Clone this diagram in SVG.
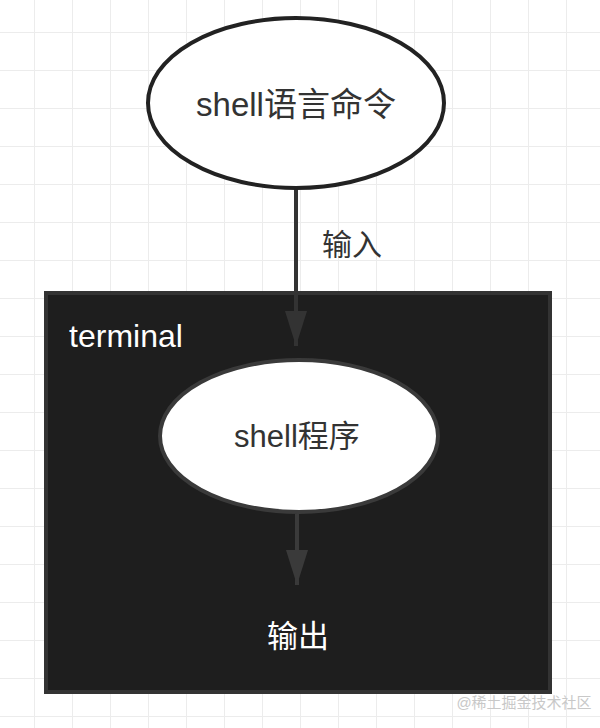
<svg xmlns="http://www.w3.org/2000/svg" width="600" height="728" viewBox="0 0 600 728">
<defs>
<pattern id="grid" x="-3" y="-5" width="38" height="38" patternUnits="userSpaceOnUse">
<path d="M38 0V38M0 38H38" fill="none" stroke="#ececec" stroke-width="2"/>
</pattern>
<marker id="ah1" viewBox="0 0 22 35" refX="11" refY="35" markerWidth="22" markerHeight="35" markerUnits="userSpaceOnUse" orient="0">
<path d="M0 0L22 0L11 35Z" fill="#333"/>
</marker>
<marker id="ah2" viewBox="0 0 22 35" refX="11" refY="35" markerWidth="22" markerHeight="35" markerUnits="userSpaceOnUse" orient="0">
<path d="M0 0L22 0L11 35Z" fill="#3a3a3a"/>
</marker>
</defs>
<style>
text{font-family:"Liberation Sans","Noto Sans CJK SC",sans-serif;text-anchor:middle;dominant-baseline:central}
.dark{fill:#333}
.light{fill:#ffffff}
</style>
<rect width="600" height="728" fill="#ffffff"/>
<rect width="600" height="728" fill="url(#grid)"/>
<g id="terminal">
<rect x="46" y="293" width="504" height="399" fill="#1e1e1e" stroke="#333" stroke-width="4"/>
<text x="126" y="336" class="light" font-size="32">terminal</text>
</g>
<g id="cmd">
<ellipse cx="296" cy="103" rx="148" ry="85" fill="#ffffff" stroke="#222" stroke-width="4"/>
<text x="296" y="104" class="dark" font-size="33">shell语言命令</text>
</g>
<g id="shell">
<ellipse cx="299" cy="436" rx="139" ry="76" fill="#ffffff" stroke="#3a3a3a" stroke-width="4"/>
<text x="297" y="436" class="dark" font-size="31">shell程序</text>
</g>
<g id="output">
<text x="298" y="636" class="light" font-size="31">输出</text>
</g>
<g id="connectors">
<line x1="296" y1="190" x2="296" y2="346" stroke="#333" stroke-width="4" marker-end="url(#ah1)"/>
<line x1="297" y1="514" x2="297" y2="585" stroke="#3a3a3a" stroke-width="4" marker-end="url(#ah2)"/>
<text x="352" y="244" class="dark" font-size="30">输入</text>
</g>
<text x="524" y="702" fill="#c8c8c8" font-size="15">@稀土掘金技术社区</text>
</svg>
